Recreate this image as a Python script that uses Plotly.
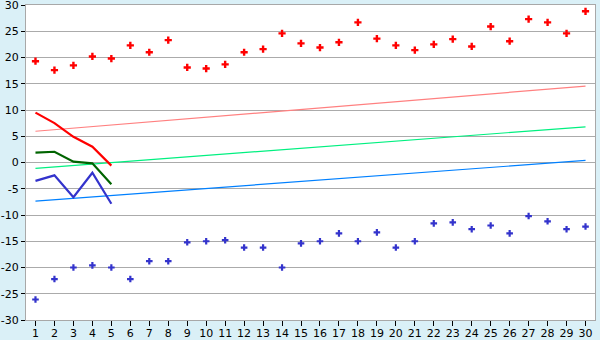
import plotly.graph_objects as go

categories = list(range(1, 31))

red_points = [19.3, 17.6, 18.5, 20.2, 19.8, 22.3, 21.0, 23.3, 18.1, 17.9,
              18.7, 21.0, 21.6, 24.6, 22.7, 21.9, 22.9, 26.7, 23.6, 22.3,
              21.4, 22.5, 23.5, 22.1, 25.9, 23.1, 27.3, 26.7, 24.6, 28.8]
blue_points = [-26.1, -22.2, -20.0, -19.6, -20.0, -22.2, -18.8, -18.8, -15.2, -15.0,
               -14.8, -16.2, -16.2, -20.0, -15.4, -15.0, -13.5, -15.0, -13.3, -16.2,
               -15.0, -11.6, -11.4, -12.7, -12.0, -13.5, -10.2, -11.2, -12.7, -12.2]

line_cats = [1, 2, 3, 4, 5]
red_line = [9.5, 7.5, 4.9, 3.0, -0.6]
green_line = [1.9, 2.05, 0.15, -0.15, -4.15]
blue_line = [-3.5, -2.45, -6.6, -1.95, -7.85]

trend_cats = [1, 30]
pink_trend = [5.95, 14.55]
green_trend = [-1.1, 6.8]
blue_trend = [-7.35, 0.4]

y_ticks = list(range(-30, 31, 5))

fig = go.Figure()

fig.add_trace(go.Scatter(x=trend_cats, y=pink_trend, mode="lines",
                         line=dict(color="#FF8080", width=1.2)))
fig.add_trace(go.Scatter(x=trend_cats, y=green_trend, mode="lines",
                         line=dict(color="#00F080", width=1.2)))
fig.add_trace(go.Scatter(x=trend_cats, y=blue_trend, mode="lines",
                         line=dict(color="#0080FF", width=1.2)))

fig.add_trace(go.Scatter(x=line_cats, y=red_line, mode="lines",
                         line=dict(color="#FF0000", width=2.2)))
fig.add_trace(go.Scatter(x=line_cats, y=green_line, mode="lines",
                         line=dict(color="#006400", width=2.2)))
fig.add_trace(go.Scatter(x=line_cats, y=blue_line, mode="lines",
                         line=dict(color="#3333CC", width=2.2)))

fig.add_trace(go.Scatter(x=categories, y=red_points, mode="markers",
                         marker=dict(symbol="cross", size=6, color="#FF0000", line=dict(width=0))))
fig.add_trace(go.Scatter(x=categories, y=blue_points, mode="markers",
                         marker=dict(symbol="cross", size=5.5, color="#3333CC", line=dict(width=0))))

fig.update_layout(
    width=600, height=340,
    margin=dict(l=26, r=5, t=5, b=20, autoexpand=False),
    paper_bgcolor="#DAF0F7",
    plot_bgcolor="#FFFFFF",
    showlegend=False,
    font=dict(family="DejaVu Sans", size=11, color="#000000"),
)
fig.update_xaxes(
    range=[0.5, 30.5], tickmode="array", tickvals=categories,
    ticktext=[str(c) for c in categories],
    showgrid=False, zeroline=False, automargin=False,
    ticks="outside", ticklen=5, tickcolor="#000000",
    ticklabeloverflow="allow", ticklabelstandoff=-2,
    showline=True, linecolor="#A8A8A8", mirror=True,
)
fig.update_yaxes(
    range=[-30, 30], tickmode="array", tickvals=y_ticks,
    ticktext=[str(v) for v in y_ticks],
    showgrid=True, gridcolor="#ABABAB", gridwidth=1, zeroline=False, automargin=False,
    ticks="outside", ticklen=4, tickcolor="#000000",
    ticklabeloverflow="allow",
    showline=True, linecolor="#A8A8A8", mirror=True,
)

fig.write_html("out.html")
